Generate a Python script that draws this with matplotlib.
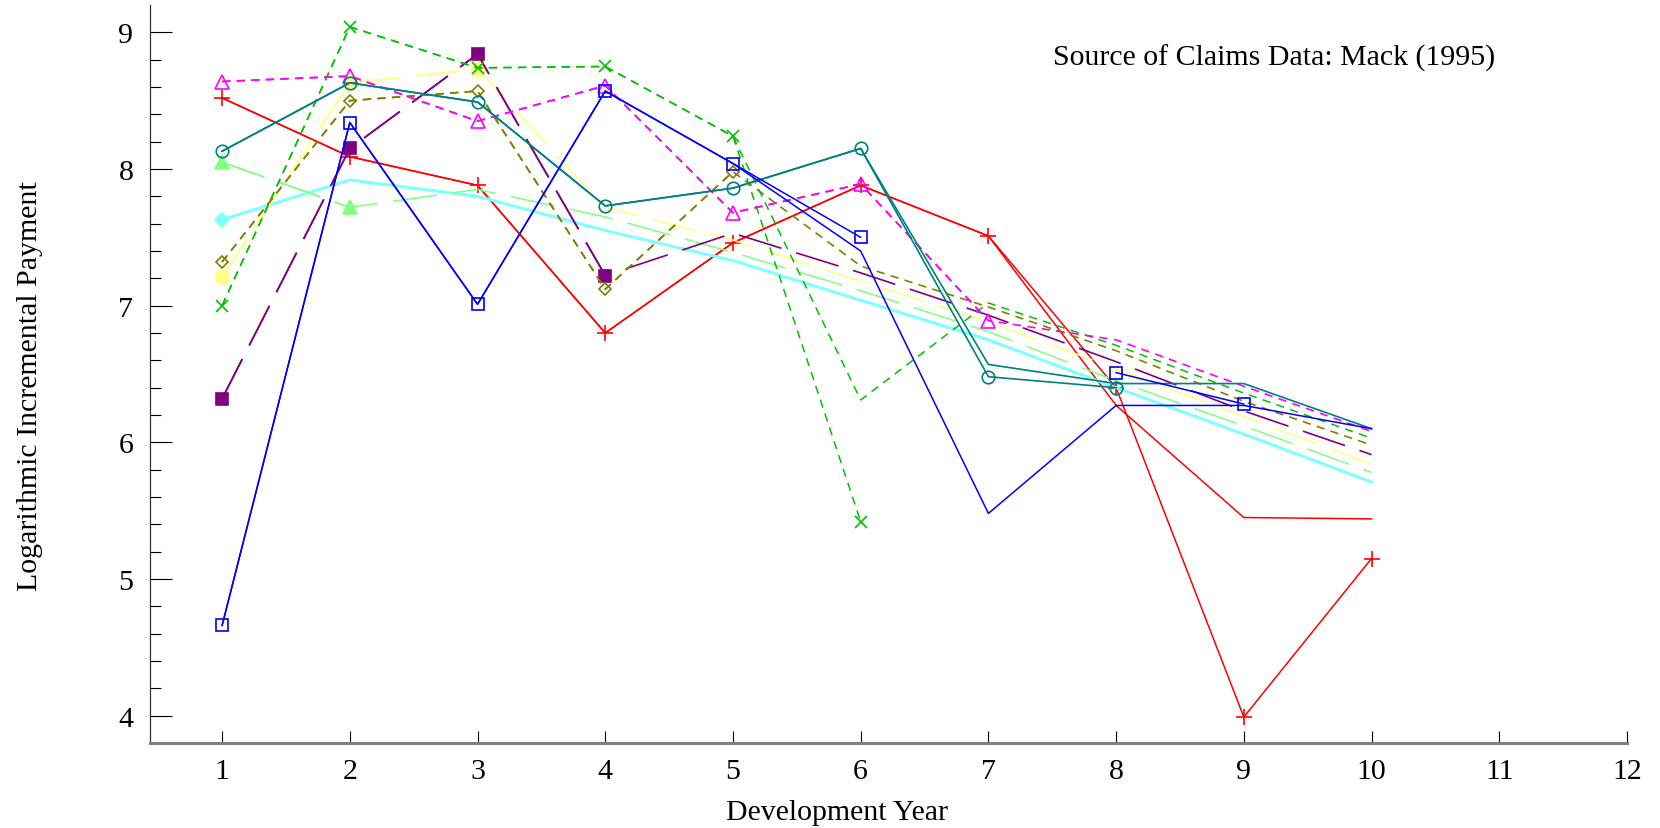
import numpy as np
import matplotlib
matplotlib.use("Agg")
import matplotlib.pyplot as plt
from matplotlib.ticker import FixedLocator

plt.rcParams["font.family"] = ["Liberation Serif", "DejaVu Serif"]
plt.rcParams["lines.scale_dashes"] = False

nan = np.nan
years = [1, 2, 3, 4, 5, 6, 7, 8, 9, 10]

# observed log incremental payments (Mack 1995 / RAA triangle), one list per accident year
obs_1981 = [8.52, 8.09, 7.88, 6.80, 7.46, 7.88, 7.51, 6.40, 3.99, 5.15]
obs_1982 = [4.66, 8.34, 7.01, 8.57, 8.04, 7.50, nan, 6.51, 6.28]
obs_1983 = [8.13, 8.63, 8.49, 7.73, 7.86, 8.15, 6.48, 6.40]
obs_1984 = [8.64, 8.68, 8.35, 8.61, 7.68, 7.89, 6.89]
obs_1985 = [7.00, 9.04, 8.74, 8.75, 8.24, 5.42]
obs_1986 = [7.32, 8.50, 8.57, 7.12, 7.98]
obs_1987 = [6.32, 8.15, 8.84, 7.22]
obs_1988 = [7.21, 8.63, 8.73]
obs_1989 = [8.05, 7.72]
obs_1990 = [7.63]

# fitted / forecast values (lines without markers)
fit_1981 = [8.52, 8.09, 7.88, 6.80, 7.46, 7.88, 7.51, 6.27, 5.45, 5.44]
fit_1982 = [4.66, 8.34, 7.01, 8.57, 8.04, 7.40, 5.48, 6.27, 6.27, 6.10]
fit_1983 = [8.13, 8.63, 8.49, 7.73, 7.86, 8.15, 6.57, 6.43, 6.43, 6.10]
fit_1984 = [8.64, 8.68, 8.35, 8.61, 7.68, 7.89, 6.89, 6.75, 6.41, 6.08]
fit_1985 = [7.00, 9.04, 8.74, 8.75, 8.24, 6.31, 7.02, 6.71, 6.36, 6.03]
fit_1986 = [7.32, 8.50, 8.57, 7.12, 7.98, 7.29, 6.99, 6.67, 6.30, 5.98]
fit_1987 = [6.32, 8.15, 8.84, 7.22, 7.53, 7.24, 6.93, 6.59, 6.23, 5.91]
fit_1988 = [7.21, 8.63, 8.73, 7.72, 7.48, 7.18, 6.88, 6.54, 6.19, 5.84]
fit_1989 = [8.05, 7.72, 7.85, 7.65, 7.39, 7.11, 6.81, 6.45, 6.12, 5.78]
fit_1990 = [7.63, 7.92, 7.80, 7.55, 7.33, 7.04, 6.75, 6.40, 6.06, 5.71]

short = (0, (6, 4.5))
long_ = (0, (32, 11))
series = [
    (obs_1981, fit_1981, "#ff0000", "+", False, "-", 1.1, 11),
    (obs_1990, fit_1990, "#80ffff", "D", True, "-", 2.2, 7),
    (obs_1989, fit_1989, "#80ff80", "^", True, long_, 1.1, 10),
    (obs_1988, fit_1988, "#ffff80", "o", True, long_, 1.1, 10),
    (obs_1987, fit_1987, "#800080", "s", True, long_, 1.2, 9),
    (obs_1986, fit_1986, "#808000", "D", False, short, 1.2, 6),
    (obs_1985, fit_1985, "#00c000", "x", False, short, 1.1, 9),
    (obs_1984, fit_1984, "#ff00ff", "^", False, short, 1.2, 10),
    (obs_1983, fit_1983, "#008080", "o", False, "-", 1.2, 9),
    (obs_1982, fit_1982, "#0000ff", "s", False, "-", 1.1, 8),
]

fig = plt.figure(figsize=(16.6, 8.29), dpi=100)
ax = fig.add_axes([0.0904, 0.1025, 0.8897, 0.8903])

for obs, fit, col, mk, filled, ls, lw, ms in series:
    ax.plot(years, fit, color=col, linestyle=ls, linewidth=lw)
    ax.plot(years[:len(obs)], obs, color=col, linestyle=ls, linewidth=lw,
            marker=mk, markersize=ms, markeredgewidth=1.2,
            markerfacecolor=col if filled else "none", markeredgecolor=col)

ax.set_xlim(0.436, 12)
ax.set_ylim(3.8, 9.2)
ax.set_xticks(range(1, 13))
ax.set_yticks([4, 5, 6, 7, 8, 9])
ax.yaxis.set_minor_locator(FixedLocator([v / 10 for v in range(42, 90, 2) if v % 10 != 0]))

ax.spines["top"].set_visible(False)
ax.spines["right"].set_visible(False)
ax.spines["left"].set_color("#333333")
ax.spines["left"].set_linewidth(0.9)
ax.spines["bottom"].set_color("#808080")
ax.spines["bottom"].set_linewidth(2.2)

ax.tick_params(axis="y", which="major", direction="in", length=16, width=0.8, pad=12, labelsize=21.5)
ax.tick_params(axis="y", which="minor", direction="in", length=8, width=0.8)
ax.tick_params(axis="x", which="major", direction="in", length=9, width=0.8, pad=11, labelsize=21.5)

fig.text(0.504, 1 - 813 / 829, "Development Year", ha="center", va="center", fontsize=21.5)
fig.text(30 / 1660, 1 - 386 / 829, "Logarithmic Incremental Payment", rotation=90,
         ha="center", va="center", fontsize=21.5)
fig.text(1053 / 1660, 1 - 58 / 829, "Source of Claims Data: Mack (1995)",
         ha="left", va="center", fontsize=21.5)

fig.savefig("out.png", dpi=100)
